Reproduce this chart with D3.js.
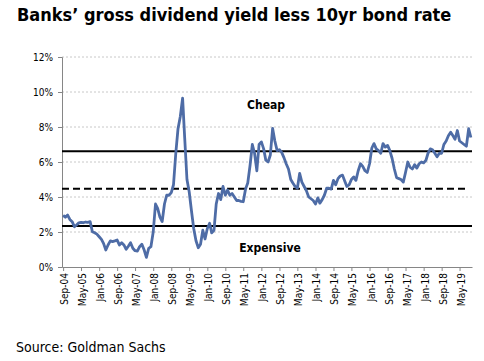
<!DOCTYPE html>
<html>
<head>
<meta charset="utf-8">
<script src="https://cdn.jsdelivr.net/npm/d3@7"></script>
<style>
  body { margin:0; background:#fff; }
  svg { display:block; }
</style>
</head>
<body>
<div id="chart"></div>
<script>
// monthly series, first value = Sep 2004
var startMonth = "2004-09";
var yieldGap = [
  2.95,2.84,2.97,2.72,2.59,2.30,2.40,2.52,2.55,2.53,2.57,2.55,2.59,2.02,1.96,1.88,
  1.73,1.58,1.35,0.97,1.26,1.49,1.45,1.49,1.54,1.26,1.39,1.26,1.01,1.20,1.39,1.07,
  0.93,0.91,1.16,1.30,0.97,0.55,1.07,1.16,2.00,3.60,3.35,2.85,2.60,3.60,4.10,4.10,
  4.25,4.70,6.50,7.90,8.60,9.65,7.40,5.00,4.30,3.20,2.20,1.50,1.10,1.30,2.10,1.60,
  2.20,2.50,1.95,2.10,3.60,4.20,3.85,4.60,4.10,4.40,4.10,4.20,4.00,3.80,3.80,3.75,
  3.73,4.45,4.80,5.80,7.00,6.50,5.50,7.00,7.15,6.75,6.10,6.00,6.40,7.92,7.20,6.65,
  6.70,6.55,6.25,5.90,5.60,5.00,4.80,4.60,4.50,5.35,4.85,4.60,4.35,4.00,3.90,3.80,
  3.60,3.95,3.65,3.85,4.10,4.50,4.50,4.45,4.95,4.70,5.05,5.20,5.25,4.90,4.60,4.70,
  5.00,5.15,4.95,5.50,5.90,5.75,5.50,5.40,5.90,6.80,7.05,6.75,6.65,6.50,7.05,6.85,
  6.95,6.65,6.20,5.60,5.10,5.05,5.00,4.85,5.40,6.00,5.70,5.60,5.85,5.65,5.90,6.00,
  5.95,6.10,6.50,6.75,6.70,6.50,6.30,6.50,6.50,7.00,7.20,7.50,7.70,7.50,7.30,7.80,
  7.20,7.10,7.00,6.90,7.90,7.40
];
var bandLevels = { upper: 6.62, mean: 4.47, lower: 2.35 };
var yTicks = [0, 2, 4, 6, 8, 10, 12];
var xTickLabels = ["Sep-04","May-05","Jan-06","Sep-06","May-07","Jan-08","Sep-08","May-09",
  "Jan-10","Sep-10","May-11","Jan-12","Sep-12","May-13","Jan-14","Sep-14","May-15",
  "Jan-16","Sep-16","May-17","Jan-18","Sep-18","May-19"];
var titleText = "Banks\u2019 gross dividend yield less 10yr bond rate";
var sourceText = "Source: Goldman Sachs";

var W = 484, H = 361;
var margin = {top: 57, right: 12, bottom: 94, left: 62};

var parseMonth = d3.timeParse("%Y-%m");
var fmtTick = d3.timeFormat("%b-%y");
var t0 = parseMonth(startMonth);
var series = yieldGap.map(function(v, i){
  return {date: d3.timeMonth.offset(t0, i), value: v};
});
var lastDate = series[series.length - 1].date;

var svg = d3.select("#chart").append("svg")
  .attr("width", W).attr("height", H);

var x = d3.scaleTime()
  .domain([d3.timeDay.offset(t0, -15), d3.timeDay.offset(lastDate, 15)])
  .range([margin.left, W - margin.right]);
var y = d3.scaleLinear()
  .domain([0, 12])
  .range([H - margin.bottom, margin.top]);

// title - fit font size to the reference width (~438px)
var title = svg.append("text")
  .attr("x", 17).attr("y", 21)
  .attr("font-family", "DejaVu Sans Condensed")
  .attr("font-weight", "bold")
  .attr("font-size", 18)
  .attr("fill", "#000")
  .text(titleText);
var tw = title.node().getComputedTextLength();
if (tw > 438) title.attr("font-size", 18 * 438 / tw);

// gridlines
svg.append("g").selectAll("line")
  .data(yTicks.filter(function(d){ return d > 0; }))
  .join("line")
  .attr("x1", margin.left).attr("x2", W - margin.right)
  .attr("y1", function(d){ return y(d); }).attr("y2", function(d){ return y(d); })
  .attr("stroke", "#c8c8c8")
  .attr("stroke-width", 1)
  .attr("stroke-dasharray", "2,2");

// y axis
var yAxis = d3.axisLeft(y).tickValues(yTicks)
  .tickFormat(function(d){ return d + "%"; })
  .tickSize(4).tickPadding(5);
var gy = svg.append("g")
  .attr("transform", "translate(" + margin.left + ",0)")
  .call(yAxis);
gy.select(".domain").attr("stroke", "#868686");
gy.selectAll(".tick line").attr("stroke", "#868686");
gy.selectAll(".tick text")
  .attr("font-family", "DejaVu Sans Condensed")
  .attr("font-size", 10).attr("fill", "#000");

// x axis
var xTickDates = xTickLabels.map(function(s){ return d3.timeParse("%b-%y")(s); });
var xAxis = d3.axisBottom(x).tickValues(xTickDates)
  .tickFormat(fmtTick).tickSize(4).tickSizeOuter(0);
var gx = svg.append("g")
  .attr("transform", "translate(0," + (H - margin.bottom) + ")")
  .call(xAxis);
gx.select(".domain").attr("stroke", "#868686");
gx.selectAll(".tick line").attr("stroke", "#868686");
gx.selectAll(".tick text")
  .attr("font-family", "DejaVu Sans Condensed")
  .attr("font-size", 10).attr("fill", "#000")
  .attr("text-anchor", "end")
  .attr("transform", "rotate(-90)")
  .attr("x", -6).attr("y", 1).attr("dy", "0.35em");

// valuation bands
svg.append("line")
  .attr("x1", margin.left).attr("x2", W - margin.right)
  .attr("y1", y(bandLevels.upper)).attr("y2", y(bandLevels.upper))
  .attr("stroke", "#000").attr("stroke-width", 2);
svg.append("line")
  .attr("x1", margin.left).attr("x2", W - margin.right - 4)
  .attr("y1", y(bandLevels.mean)).attr("y2", y(bandLevels.mean))
  .attr("stroke", "#000").attr("stroke-width", 2)
  .attr("stroke-dasharray", "7,4");
svg.append("line")
  .attr("x1", margin.left).attr("x2", W - margin.right)
  .attr("y1", y(bandLevels.lower)).attr("y2", y(bandLevels.lower))
  .attr("stroke", "#000").attr("stroke-width", 2);

// series
var line = d3.line()
  .x(function(d){ return x(d.date); })
  .y(function(d){ return y(d.value); });
svg.append("path")
  .datum(series)
  .attr("d", line)
  .attr("fill", "none")
  .attr("stroke", "#4e6ca6")
  .attr("stroke-width", 2.8)
  .attr("stroke-linejoin", "round");

// annotations
svg.append("text")
  .attr("x", 266).attr("y", 109)
  .attr("text-anchor", "middle")
  .attr("font-family", "DejaVu Sans Condensed")
  .attr("font-weight", "bold").attr("font-size", 12)
  .text("Cheap");
svg.append("text")
  .attr("x", 270).attr("y", 252)
  .attr("text-anchor", "middle")
  .attr("font-family", "DejaVu Sans Condensed")
  .attr("font-weight", "bold").attr("font-size", 12)
  .text("Expensive");

// source
svg.append("text")
  .attr("x", 16).attr("y", 352)
  .attr("font-family", "DejaVu Sans Condensed")
  .attr("font-size", 14)
  .text(sourceText);
</script>
</body>
</html>
